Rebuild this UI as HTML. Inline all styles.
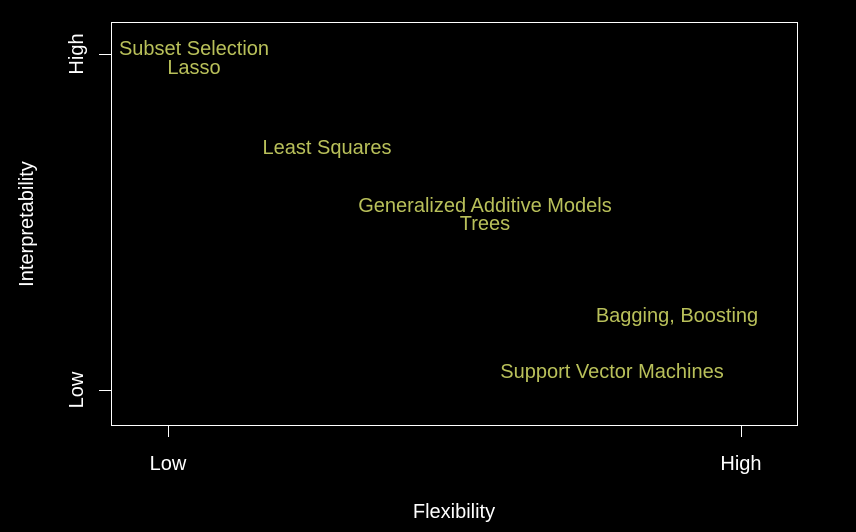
<!DOCTYPE html>
<html><head><style>body{margin:0;background:#000}svg{display:block}</style></head><body>
<svg width="856" height="532" xmlns="http://www.w3.org/2000/svg" font-family="Liberation Sans, sans-serif">
<rect width="856" height="532" fill="#000"/>
<rect x="111.5" y="22.5" width="686" height="403" fill="none" stroke="#fff" stroke-width="1"/>
<g stroke="#fff" stroke-width="1">
<line x1="168.5" y1="425" x2="168.5" y2="437"/>
<line x1="741.5" y1="425" x2="741.5" y2="437"/>
<line x1="99" y1="54.5" x2="111" y2="54.5"/>
<line x1="99" y1="390.5" x2="111" y2="390.5"/>
</g>
<g fill="#fff" font-size="20" text-anchor="middle">
<text x="168" y="470">Low</text>
<text x="741" y="470">High</text>
<text x="454" y="518">Flexibility</text>
<text transform="translate(83,54) rotate(-90)">High</text>
<text transform="translate(83,390) rotate(-90)">Low</text>
<text transform="translate(33,224) rotate(-90)">Interpretability</text>
</g>
<g fill="#b9c05a" font-size="20" text-anchor="middle">
<text x="194" y="55">Subset Selection</text>
<text x="194" y="74">Lasso</text>
<text x="327" y="154">Least Squares</text>
<text x="485" y="212">Generalized Additive Models</text>
<text x="485" y="230">Trees</text>
<text x="677" y="322">Bagging, Boosting</text>
<text x="612" y="378">Support Vector Machines</text>
</g>
</svg>
</body></html>
